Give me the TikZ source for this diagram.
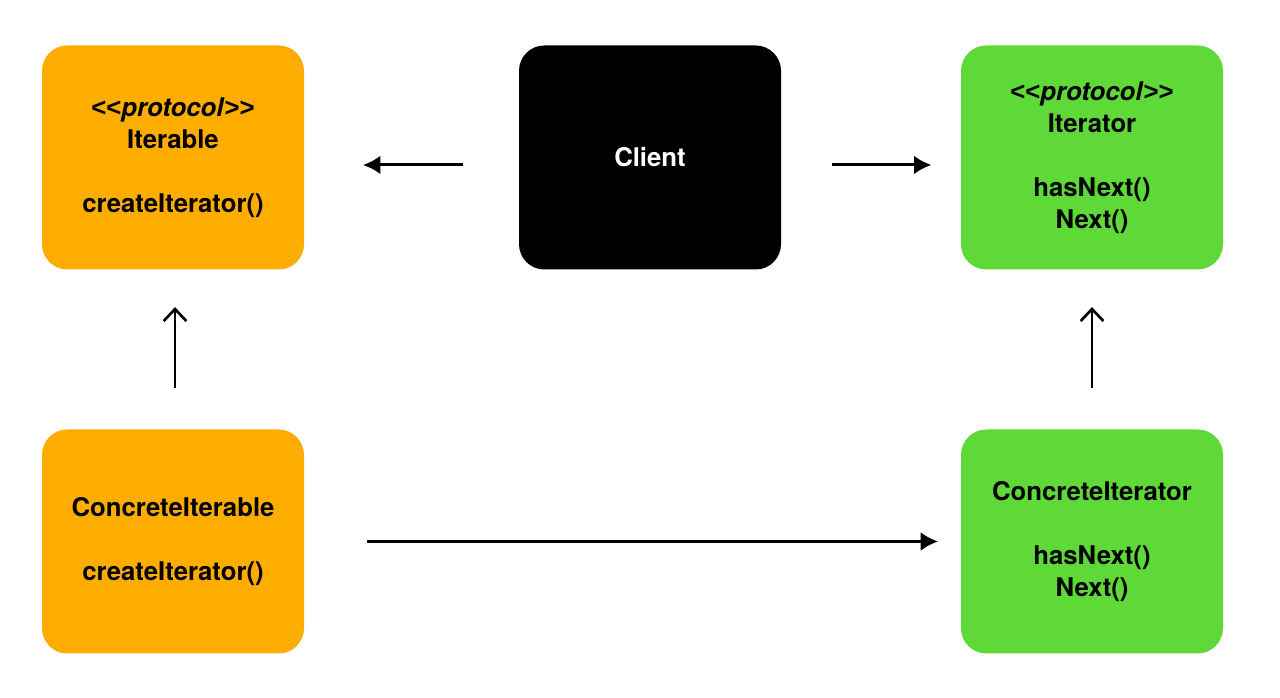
\documentclass[tikz,border=0pt]{standalone}
\usepackage{fontspec}
\setmainfont{TeX Gyre Heros}
\newfontfamily\lsans{Liberation Sans}
\usetikzlibrary{arrows.meta}
\definecolor{orangebox}{RGB}{253,173,0}
\definecolor{greenbox}{RGB}{95,217,55}
\newcommand{\proto}{{\lsans <<}\textit{protocol}{\lsans >>}}
\begin{document}
\begin{tikzpicture}[x=0.75pt,y=0.75pt,
  box/.style={rounded corners=19pt, minimum width=196.5pt, minimum height=168pt,
    align=center, font=\bfseries\fontsize{19.3}{24}\selectfont},
  rel/.style={line width=2.2pt, -{Latex[length=13pt,width=14pt]}},
  inh/.style={line width=2.2pt, -{Straight Barb[length=9pt,width=17pt,line width=2pt]}}]
\useasboundingbox (0,0) rectangle (1280,698);

\node[box, fill=orangebox] (iterable) at (173,540.5)
  {\proto\\Iterable\\[24pt]createIterator()};
\node[box, fill=black, text=white] (client) at (650,540.5) {Client};
\node[box, fill=greenbox] (iterator) at (1092,540.5)
  {\proto\\Iterator\\[24pt]hasNext()\\Next()};
\node[box, fill=orangebox] (citerable) at (173,156.5)
  {ConcreteIterable\\[24pt]createIterator()};
\node[box, fill=greenbox] (citerator) at (1092,156.5)
  {ConcreteIterator\\[24pt]hasNext()\\Next()};

\draw[rel, shorten <=42pt, shorten >=44pt] ([yshift=-5.6pt]client.west) -- ([yshift=-5.6pt]iterable.east);
\draw[rel, shorten <=38pt, shorten >=22pt] ([yshift=-5.6pt]client.east) -- ([yshift=-5.6pt]iterator.west);
\draw[inh, shorten <=31pt, shorten >=28pt] ([xshift=1.5pt]citerable.north) -- ([xshift=1.5pt]iterable.south);
\draw[inh, shorten <=31pt, shorten >=28pt] (citerator.north) -- (iterator.south);
\draw[rel, shorten <=47pt, shorten >=17pt] (citerable.east) -- (citerator.west);
\end{tikzpicture}
\end{document}
